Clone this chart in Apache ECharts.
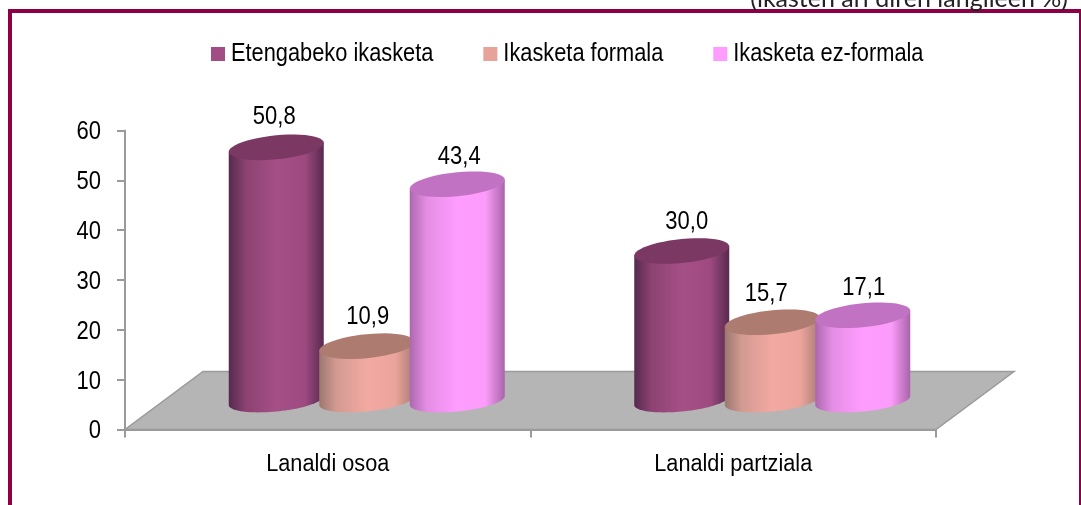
<!DOCTYPE html>
<html>
<head>
    <meta charset="utf-8">
    <style type="text/css" media="screen">
        html,body {
            margin: 0px; padding: 0px; height: 100%; background: #fff;
        }
    </style>
    <script src="https://cdn.jsdelivr.net/npm/echarts@6/dist/echarts.min.js"></script>
</head>
<body>
    <div id="canvas1" style="width: 1081px; height: 505px;"></div>

    <script type="text/javascript">
        var categories = ['Lanaldi osoa', 'Lanaldi partziala'];
        var etengabeko = [50.8, 30.0];
        var formala = [10.9, 15.7];
        var ezFormala = [43.4, 17.1];
        var seriesNames = ['Etengabeko ikasketa', 'Ikasketa formala', 'Ikasketa ez-formala'];
        var unitNote = '(ikasten ari diren langileen %)';

        var FONT = '"Liberation Sans", Arial, sans-serif';
        var AXIS_GRAY = '#9a9a9a';

        // oblique floor offset of the chart box, the bars stand half way back
        var DEPTH_X = 78, DEPTH_Y = -58;
        var BAR_STEP = 90.5, RX = 47.5, RY_TOP = 12, RY_BASE = 11, TILT = 4.5;

        // side gradient and lid colour per series, nudge = hand placed data labels [dx, dy]
        var looks = [
            { legend: '#a24d84', lid: '#7a3863', nudge: [[-2, 0], [5, 1]],
                side: ['#552a4e', '#8c4272', '#a54f87', '#9e4a81', '#58294f'] },
            { legend: '#e7a299', lid: '#ad7b70', nudge: [[1, 1], [-6, 2]],
                side: ['#9c7870', '#d29a92', '#f2a9a1', '#eba49c', '#a67c74'] },
            { legend: '#ff9cff', lid: '#c272c2', nudge: [[2, 3], [1, 3]],
                side: ['#ad68ad', '#e48de4', '#ff9dff', '#fb9bfb', '#a964a9'] }
        ];

        function rim(cx, cy, ry, from, to) { // points along a tilted ellipse
            var pts = [];
            for (var i = 0; i <= 48; i++) {
                var t = from + (to - from) * i / 48;
                pts.push([cx + RX * Math.cos(t), cy - TILT * Math.cos(t) + ry * Math.sin(t)]);
            }
            return pts;
        }

        function cylinderItem(idx) {
            return function (params, api) {
                var look = looks[idx];
                var value = api.value(1);
                var nudge = look.nudge[params.dataIndex];
                var top = api.coord([api.value(0), value]);
                var base = api.coord([api.value(0), 0]);
                var cx = top[0] + DEPTH_X / 2 + (idx - 1) * BAR_STEP;
                var topY = top[1] + DEPTH_Y / 2;
                var baseY = base[1] + DEPTH_Y / 2;
                var side = [[cx + RX, topY - TILT]].concat(rim(cx, baseY, RY_BASE, 0, Math.PI), [[cx - RX, topY + TILT]]);
                var stops = look.side.map(function (c, i) {
                    return { offset: [0, 0.18, 0.5, 0.8, 1][i], color: c };
                });
                return {
                    type: 'group',
                    children: [{
                        type: 'polygon',
                        shape: { points: side },
                        style: { fill: new echarts.graphic.LinearGradient(0, 0, 1, 0, stops) }
                    }, {
                        type: 'polygon',
                        shape: { points: rim(cx, topY, RY_TOP, 0, Math.PI * 2) },
                        style: { fill: look.lid }
                    }, {
                        type: 'text',
                        style: {
                            text: value.toFixed(1).replace('.', ','),
                            x: cx + nudge[0],
                            y: topY - 30 + nudge[1],
                            align: 'center',
                            verticalAlign: 'middle',
                            fill: '#000',
                            font: '22px ' + FONT
                        }
                    }]
                };
            };
        }

        function floorItem(params) {
            var c = params.coordSys;
            var y = c.y + c.height;
            return {
                type: 'polygon',
                shape: {
                    points: [[c.x, y], [c.x + c.width, y],
                        [c.x + c.width + DEPTH_X, y + DEPTH_Y], [c.x + DEPTH_X, y + DEPTH_Y]]
                },
                style: { fill: '#b5b5b5', stroke: AXIS_GRAY, lineWidth: 1.5 }
            };
        }

        function pairs(values) {
            return values.map(function (v, i) { return [i, v]; });
        }

        function barSeries(idx, values) {
            return {
                name: seriesNames[idx],
                type: 'custom',
                coordinateSystem: 'cartesian2d',
                clip: false,
                z: 3 + idx,
                itemStyle: { color: looks[idx].legend },
                encode: { x: 0, y: 1 },
                data: pairs(values),
                renderItem: cylinderItem(idx)
            };
        }

        var myChart1 = echarts.init(document.getElementById('canvas1'));

        var option1 = {
            animation: false,
            backgroundColor: '#fff',
            textStyle: { fontFamily: FONT },
            graphic: [{
                type: 'rect',
                z: 0,
                shape: { x: 10, y: 11, width: 1071, height: 600 },
                style: { fill: 'none', stroke: '#8e0045', lineWidth: 4 }
            }, {
                type: 'text',
                z: 0,
                style: {
                    text: unitNote,
                    x: 1068,
                    y: -14,
                    align: 'right',
                    verticalAlign: 'top',
                    fill: '#222',
                    font: '25px Lato, sans-serif'
                }
            }],
            legend: {
                data: seriesNames,
                left: 206,
                top: 38,
                icon: 'rect',
                itemWidth: 14,
                itemHeight: 14,
                itemGap: 50,
                textStyle: { color: '#000', fontSize: 21.8, fontFamily: FONT, padding: [0, 0, 0, 1] }
            },
            grid: { left: 125, right: 145, top: 130.5, bottom: 75.5 },
            xAxis: {
                type: 'category',
                data: categories,
                axisLine: { lineStyle: { color: AXIS_GRAY, width: 2 } },
                axisTick: { show: true, length: 8, lineStyle: { color: AXIS_GRAY, width: 2 } },
                axisLabel: { color: '#000', fontSize: 21.7, margin: 24, fontFamily: FONT }
            },
            yAxis: {
                type: 'value',
                min: 0,
                max: 60,
                interval: 10,
                splitLine: { show: false },
                axisLine: { show: true, lineStyle: { color: AXIS_GRAY, width: 2 } },
                axisTick: { show: true, length: 8, lineStyle: { color: AXIS_GRAY, width: 2 } },
                axisLabel: { color: '#000', fontSize: 22, margin: 24, fontFamily: FONT }
            },
            series: [{
                type: 'custom',
                coordinateSystem: 'cartesian2d',
                silent: true,
                clip: false,
                z: 1,
                data: [[0, 0]],
                renderItem: floorItem
            }, barSeries(0, etengabeko), barSeries(1, formala), barSeries(2, ezFormala)]
        };

        myChart1.setOption(option1);

        // the original type is narrow and tall, stretch the drawn labels upward a bit
        var zr = myChart1.getZr();
        zr.storage.getDisplayList(true).forEach(function (el) {
            if (el.style && el.style.text && String(el.style.font).indexOf('Liberation') >= 0) {
                el.originY = el.style.y;
                el.scaleY = 1.14;
                if (/^\d+$/.test(el.style.text)) { // y ticks sit centred on their tick
                    el.y = 2;
                }
                el.markRedraw();
            }
        });
        zr.refresh();
    </script>
</body>
</html>
